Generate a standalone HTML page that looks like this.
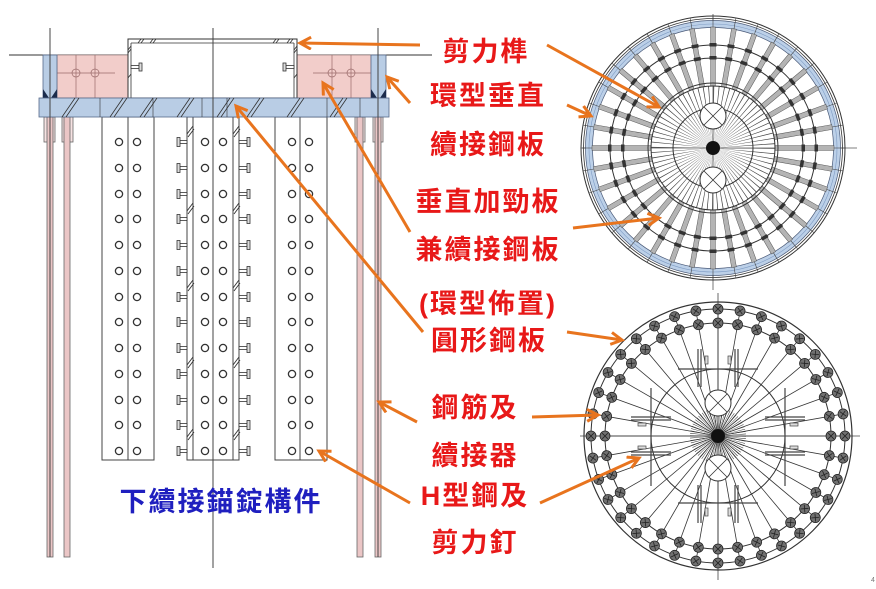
<!DOCTYPE html>
<html><head><meta charset="utf-8"><style>
html,body{margin:0;padding:0;background:#fff;}
svg{display:block;}
.lb{font-family:"Liberation Sans","Noto Sans CJK TC",sans-serif;font-weight:bold;font-size:27px;letter-spacing:2px;fill:#e81818;}
</style></head><body>
<svg width="876" height="589" viewBox="0 0 876 589" xmlns="http://www.w3.org/2000/svg">
<defs>
<marker id="ah" markerWidth="16" markerHeight="16" refX="12" refY="7" orient="auto" markerUnits="userSpaceOnUse">
<path d="M1,1 L12,7 L1,13" fill="none" stroke="#E8741E" stroke-width="3"/>
</marker>
<g id="row">
<g fill="none" stroke="#333" stroke-width="1.3">
<circle cx="119" cy="0" r="3.6"/><circle cx="137" cy="0" r="3.6"/>
<circle cx="205" cy="0" r="3.6"/><circle cx="223" cy="0" r="3.6"/>
<circle cx="292" cy="0" r="3.6"/><circle cx="309" cy="0" r="3.6"/>
</g>
<g stroke="#333" stroke-width="0.8">
<rect x="180" y="-1.5" width="7" height="3" fill="#fff"/><rect x="177" y="-4.5" width="3" height="9" fill="#ddd"/>
<rect x="239" y="-1.5" width="8" height="3" fill="#fff"/><rect x="247" y="-4.5" width="3" height="9" fill="#ddd"/>
</g>
</g>
<g id="tb">
<rect x="62" y="-2.4" width="59" height="4.8" fill="#b4b4b4" stroke="#555" stroke-width="0.5"/>
<line x1="121" y1="0" x2="132" y2="0" stroke="#444" stroke-width="0.6"/>
<rect x="101.5" y="-3.5" width="3.5" height="7" fill="#333"/>
<rect x="88.5" y="-3.5" width="3.5" height="7" fill="#333"/>
</g>
<g id="tq">
<use href="#tb"/><use href="#tb" transform="rotate(10)"/><use href="#tb" transform="rotate(20)"/>
<use href="#tb" transform="rotate(30)"/><use href="#tb" transform="rotate(40)"/><use href="#tb" transform="rotate(50)"/>
<use href="#tb" transform="rotate(60)"/><use href="#tb" transform="rotate(70)"/><use href="#tb" transform="rotate(80)"/>
</g>
<g id="bd">
<line x1="0" y1="0" x2="127" y2="0" stroke="#333" stroke-width="0.8"/>
<g transform="translate(127,0)"><circle r="5" fill="#707070" stroke="#222" stroke-width="0.8"/><path d="M-2.8,-2.8L2.8,2.8M-2.8,2.8L2.8,-2.8" stroke="#222" stroke-width="0.8"/></g>
<g transform="translate(113,0)"><circle r="5" fill="#707070" stroke="#222" stroke-width="0.8"/><path d="M-2.8,-2.8L2.8,2.8M-2.8,2.8L2.8,-2.8" stroke="#222" stroke-width="0.8"/></g>
</g>
<g id="bq">
<use href="#bd"/><use href="#bd" transform="rotate(10)"/><use href="#bd" transform="rotate(20)"/>
<use href="#bd" transform="rotate(30)"/><use href="#bd" transform="rotate(40)"/><use href="#bd" transform="rotate(50)"/>
<use href="#bd" transform="rotate(60)"/><use href="#bd" transform="rotate(70)"/><use href="#bd" transform="rotate(80)"/>
</g>
</defs>

<!-- ===== LEFT ELEVATION ===== -->
<line x1="9" y1="55" x2="432" y2="55" stroke="#333" stroke-width="1"/>
<g stroke="#666" stroke-width="0.8">
<rect x="44" y="117" width="11" height="25" fill="#f6e2e2"/>
<rect x="62" y="117" width="11" height="25" fill="#f6e2e2"/>
<rect x="355" y="117" width="10" height="25" fill="#f6e2e2"/>
<rect x="373" y="117" width="10" height="25" fill="#f6e2e2"/>
<rect x="47" y="117" width="6" height="440" fill="#ebc6c6"/>
<rect x="64" y="117" width="6" height="440" fill="#ebc6c6"/>
<rect x="357" y="117" width="6" height="440" fill="#ebc6c6"/>
<rect x="375" y="117" width="6" height="440" fill="#ebc6c6"/>
</g>
<g fill="#fff" stroke="#444" stroke-width="1">
<rect x="102" y="117" width="52" height="343"/>
<rect x="187" y="117" width="52" height="343"/>
<rect x="275" y="117" width="52" height="343"/>
</g>
<g stroke="#444" stroke-width="1">
<line x1="128" y1="117" x2="128" y2="460"/>
<line x1="193" y1="117" x2="193" y2="460"/>
<line x1="233" y1="117" x2="233" y2="460"/>
<line x1="300" y1="117" x2="300" y2="460"/>
</g>
<g stroke="#333" stroke-width="0.9">
<path d="M187,134 L193,126 M188,137 L194,129 M233,134 L239,126 M234,137 L240,129"/>
<path d="M187,211 L193,203 M188,214 L194,206 M233,211 L239,203 M234,214 L240,206"/>
<path d="M187,288 L193,280 M188,291 L194,283 M233,288 L239,280 M234,291 L240,283"/>
<path d="M187,365 L193,357 M188,368 L194,360 M233,365 L239,357 M234,368 L240,360"/>
<path d="M187,437 L193,429 M188,440 L194,432 M233,437 L239,429 M234,440 L240,432"/>
</g>
<use href="#row" transform="translate(0,142)"/>
<use href="#row" transform="translate(0,168)"/>
<use href="#row" transform="translate(0,194)"/>
<use href="#row" transform="translate(0,219)"/>
<use href="#row" transform="translate(0,245)"/>
<use href="#row" transform="translate(0,271)"/>
<use href="#row" transform="translate(0,297)"/>
<use href="#row" transform="translate(0,322)"/>
<use href="#row" transform="translate(0,348)"/>
<use href="#row" transform="translate(0,374)"/>
<use href="#row" transform="translate(0,400)"/>
<use href="#row" transform="translate(0,425)"/>
<use href="#row" transform="translate(0,451)"/>

<rect x="57" y="55" width="71" height="43" fill="#f2cdca" stroke="#8a7070" stroke-width="0.6"/>
<rect x="297" y="55" width="74" height="43" fill="#f2cdca" stroke="#8a7070" stroke-width="0.6"/>
<g stroke="#9a6a6a" stroke-width="0.7" fill="none">
<line x1="57" y1="73" x2="115" y2="73"/><line x1="76" y1="55" x2="76" y2="98"/><line x1="95" y1="55" x2="95" y2="98"/>
<circle cx="76" cy="73" r="4"/><circle cx="95" cy="73" r="4"/>
<line x1="313" y1="73" x2="371" y2="73"/><line x1="332" y1="55" x2="332" y2="98"/><line x1="351" y1="55" x2="351" y2="98"/>
<circle cx="332" cy="73" r="4"/><circle cx="351" cy="73" r="4"/>
</g>
<rect x="43" y="55" width="14" height="43" fill="#b9cde5" stroke="#56698a" stroke-width="0.8"/>
<rect x="371" y="55" width="15" height="43" fill="#b9cde5" stroke="#56698a" stroke-width="0.8"/>
<path d="M43,89 L49,98 L43,98Z M57,89 L51,98 L57,98Z M371,89 L377,98 L371,98Z M386,89 L380,98 L386,98Z" fill="#1c2c4c"/>
<rect x="128" y="39" width="169" height="59" fill="#fff" stroke="#333" stroke-width="1"/>
<g stroke="#333" stroke-width="0.8">
<line x1="131" y1="43" x2="294" y2="43"/><line x1="131" y1="43" x2="131" y2="98"/><line x1="294" y1="43" x2="294" y2="98"/>
<path d="M138,43 L141,39 M141,43 L144,39 M150,43 L153,39 M153,43 L156,39 M273,43 L276,39 M276,43 L279,39 M287,43 L290,39 M290,43 L293,39"/>
<path d="M128,50 L131,46 M128,53 L131,49 M294,50 L297,46 M294,53 L297,49 M128,78 L131,74 M294,78 L297,74"/>
<rect x="131" y="65.5" width="8" height="3" fill="#fff"/><rect x="139" y="63" width="3" height="8" fill="#ddd"/>
<rect x="286" y="65.5" width="8" height="3" fill="#fff"/><rect x="283" y="63" width="3" height="8" fill="#ddd"/>
</g>
<rect x="39" y="98" width="350" height="19" fill="#b9cde5" stroke="#56698a" stroke-width="0.8"/>
<g stroke="#333" stroke-width="0.8">
<path d="M62,117 L75,98 M66,117 L79,98 M110,117 L123,98 M114,117 L127,98 M140,117 L153,98 M144,117 L157,98 M177,117 L190,98 M181,117 L194,98 M217,117 L230,98 M221,117 L234,98 M247,117 L260,98 M251,117 L264,98 M287,117 L300,98 M291,117 L304,98 M330,117 L343,98 M334,117 L347,98"/>
<path d="M100,98 V117 M153,98 V117 M202,98 V117 M227,98 V117 M327,98 V117 M360,98 V117" stroke-width="0.6"/>
</g>
<g stroke="#444" stroke-width="1">
<line x1="50" y1="28" x2="50" y2="557"/>
<line x1="213" y1="28" x2="213" y2="568"/>
<line x1="378" y1="28" x2="378" y2="557"/>
</g>

<text x="221" y="502" text-anchor="middle" dominant-baseline="central" style="font-family:'Liberation Sans','Noto Sans CJK TC',sans-serif;font-weight:bold;font-size:27px;letter-spacing:2px;fill:#1f1fbf">下續接錨錠構件</text>

<!-- ===== TOP CIRCLE ===== -->
<g transform="translate(713,148)" fill="none">
<line x1="-131" y1="0" x2="144" y2="0" stroke="#555" stroke-width="0.8"/>
<line x1="0" y1="-134" x2="0" y2="142" stroke="#555" stroke-width="0.8"/>
<circle r="124" stroke="#bcd0e8" stroke-width="7"/>
<circle r="124" stroke="#7f9cc4" stroke-width="0.6"/>
<circle r="132" stroke="#333" stroke-width="1"/>
<circle r="129.5" stroke="#333" stroke-width="0.8"/>
<circle r="127.5" stroke="#4a5a78" stroke-width="0.7"/>
<circle r="120.5" stroke="#4a5a78" stroke-width="0.7"/>
<circle r="31" stroke="#444" stroke-width="62" stroke-dasharray="0.4 2.305"/>
<use href="#tq"/><use href="#tq" transform="rotate(90)"/><use href="#tq" transform="rotate(180)"/><use href="#tq" transform="rotate(270)"/>
<circle r="103" stroke="#333" stroke-width="1"/>
<circle r="90" stroke="#333" stroke-width="1"/>
<circle r="65" stroke="#333" stroke-width="1" fill="none"/>
<circle r="62" stroke="#333" stroke-width="1"/>
<circle r="40" stroke="#333" stroke-width="1"/>
<circle cx="0" cy="-32" r="13" stroke="#333" stroke-width="1" fill="#fff"/>
<circle cx="0" cy="32" r="13" stroke="#333" stroke-width="1" fill="#fff"/>
<path d="M-9,-41 L9,-23 M-9,-23 L9,-41 M-9,23 L9,41 M-9,41 L9,23" stroke="#333" stroke-width="0.8"/>
<circle r="7" fill="#111"/>
</g>

<!-- ===== BOTTOM CIRCLE ===== -->
<g transform="translate(718,436)" fill="none">
<line x1="-138" y1="0" x2="142" y2="0" stroke="#444" stroke-width="0.8"/>
<line x1="0" y1="-143" x2="0" y2="144" stroke="#444" stroke-width="0.8"/>
<circle r="134" stroke="#333" stroke-width="1.2"/>
<circle r="127" stroke="#333" stroke-width="1"/>
<circle r="113" stroke="#333" stroke-width="1"/>
<circle r="67" stroke="#333" stroke-width="1"/>
<circle r="14" stroke="#333" stroke-width="28" stroke-dasharray="0.3 0.92"/>
<use href="#bq"/><use href="#bq" transform="rotate(90)"/><use href="#bq" transform="rotate(180)"/><use href="#bq" transform="rotate(270)"/>
<circle cx="0" cy="-33" r="13" stroke="#333" stroke-width="1" fill="#fff"/>
<circle cx="0" cy="32" r="13" stroke="#333" stroke-width="1" fill="#fff"/>
<path d="M-9,-42 L9,-24 M-9,-24 L9,-42 M-9,23 L9,41 M-9,41 L9,23" stroke="#333" stroke-width="0.8"/>
<circle r="7" fill="#111"/>
<g stroke="#444" stroke-width="1.2">
<path d="M-20,-87 V-49 M20,-87 V-49 M-17,-87 V-49 M17,-87 V-49 M-40,-67 H40"/>
<path d="M-20,87 V49 M20,87 V49 M-17,87 V49 M17,87 V49 M-40,67 H40"/>
<path d="M47,-19 H87 M47,19 H87 M47,-16 H87 M47,16 H87 M67,-48 V50"/>
<path d="M-47,-19 H-87 M-47,19 H-87 M-47,-16 H-87 M-47,16 H-87 M-67,-48 V50"/>
</g>
<g fill="#ddd" stroke="#444" stroke-width="0.7">
<rect x="-13" y="-80" width="3" height="8"/><rect x="10" y="-80" width="3" height="8"/>
<rect x="-13" y="72" width="3" height="8"/><rect x="10" y="72" width="3" height="8"/>
<rect x="72" y="-13" width="8" height="3"/><rect x="72" y="10" width="8" height="3"/>
<rect x="-80" y="-13" width="8" height="3"/><rect x="-80" y="10" width="8" height="3"/>
</g>
</g>

<!-- ===== ARROWS ===== -->
<g stroke="#E8741E" stroke-width="3" fill="none" marker-end="url(#ah)">
<line x1="420" y1="45" x2="300" y2="43"/>
<line x1="547" y1="45" x2="659" y2="107"/>
<line x1="410" y1="103" x2="387" y2="77"/>
<line x1="567" y1="105" x2="591" y2="116"/>
<line x1="410" y1="232" x2="323" y2="83"/>
<line x1="573" y1="228" x2="659" y2="218"/>
<line x1="423" y1="332" x2="236" y2="106"/>
<line x1="567" y1="332" x2="622" y2="340"/>
<line x1="417" y1="422" x2="379" y2="402"/>
<line x1="532" y1="417" x2="598" y2="415"/>
<line x1="410" y1="503" x2="319" y2="451"/>
<line x1="540" y1="503" x2="639" y2="458"/>
</g>

<!-- ===== LABELS ===== -->
<g class="lb" text-anchor="middle" dominant-baseline="central">
<text x="486" y="52" class="lb">剪力榫</text>
<text x="488" y="96" class="lb">環型垂直</text>
<text x="488" y="145" class="lb">續接鋼板</text>
<text x="488" y="202" class="lb">垂直加勁板</text>
<text x="488" y="250" class="lb">兼續接鋼板</text>
<text x="488" y="304" class="lb">(環型佈置)</text>
<text x="489" y="341" class="lb">圓形鋼板</text>
<text x="475" y="408" class="lb">鋼筋及</text>
<text x="475" y="456" class="lb">續接器</text>
<text x="475" y="496" class="lb">H型鋼及</text>
<text x="475" y="543" class="lb">剪力釘</text>
</g>
<text x="871" y="582" style="font-family:'Liberation Sans',sans-serif;font-size:7px;fill:#777">4</text>
</svg>
</body></html>
